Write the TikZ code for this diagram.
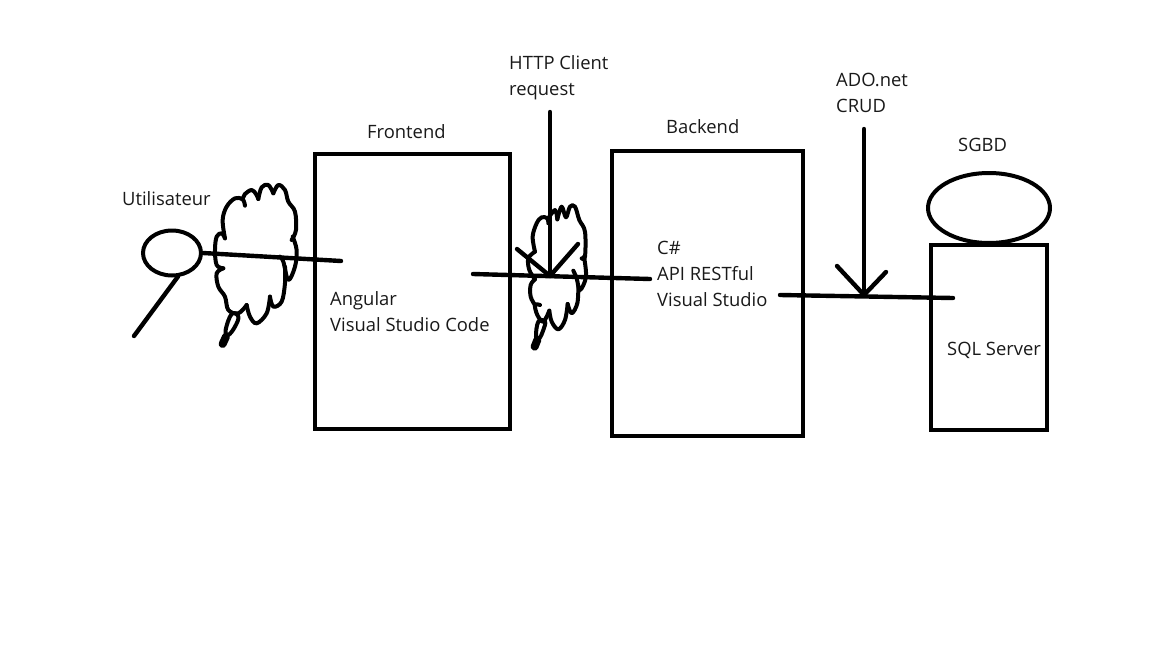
\documentclass[tikz,border=0pt]{standalone}
\usepackage{fontspec}
\setmainfont{Open Sans}
\usetikzlibrary{shapes.geometric}
\tikzset{
  every picture/.style={x=1pt,y=-1pt},
  ink/.style={line width=4.4pt,draw=black,line cap=round,line join=round},
  boxnode/.style={draw=black,line width=4pt,rectangle,inner sep=0pt,minimum width=#1},
  ovalnode/.style={draw=black,line width=4pt,ellipse,inner sep=0pt},
  lab/.style={inner sep=0pt,anchor=west,align=left,font=\fontsize{18.4}{26}\selectfont,text=black!90},
  doodle/.style={line width=4pt,draw=black,line cap=round,line join=round}
}
\begin{document}
\begin{tikzpicture}
\useasboundingbox (0,0) rectangle (1152,648);
% boxes
\node[boxnode=195pt,minimum height=275pt] (front) at (412.5,291.5) {};
\node[boxnode=191pt,minimum height=285pt] (back) at (707.5,293.5) {};
\node[boxnode=116pt,minimum height=185pt] (db) at (989,337.5) {};
\node[ovalnode,minimum width=122pt,minimum height=70pt] (dbtop) at (989,208) {};
\node[ovalnode,minimum width=58pt,minimum height=45pt] (user) at (172,253) {};
% labels
\node[lab] (lu) at (122,199) {Utilisateur};
\node[lab] (lf) at (367,132) {Frontend};
\node[lab] (lb) at (666,127) {Backend};
\node[lab] (ls) at (958,145) {SGBD};
\node[lab] (lh) at (509,77.5) {HTTP Client\\request};
\node[lab] (la) at (836,92.5) {ADO.net\\CRUD};
\node[lab] (lfi) at (330,311.5) {Angular\\Visual Studio Code};
\node[lab] (lbi) at (657,273.5) {C\#\\API RESTful\\Visual Studio};
\node[lab] (lsq) at (947,350) {SQL Server};
% free ends
\coordinate (legend) at (134,336);
\coordinate (u1) at (341,261);
\coordinate (f1) at (473,274);
\coordinate (h1) at (650,279);
\coordinate (hv0) at (550,112);
\coordinate (hv1) at (550,276);
\coordinate (ha1) at (517,249);
\coordinate (ha2) at (578,244);
\coordinate (b1) at (780,295);
\coordinate (d1) at (953,298);
\coordinate (av0) at (864,129);
\coordinate (av1) at (864,295);
\coordinate (aa1) at (837,266);
\coordinate (aa2) at (886,272);
% connectors
\draw[ink] (user.south) ++(6,-1) -- (legend);
\draw[ink] (user.east) -- (u1);
\draw[ink] (f1) -- (h1);
\draw[ink] (hv0) -- (hv1);
\draw[ink] (ha1) -- (hv1) -- (ha2);
\draw[ink] (b1) -- (d1);
\draw[ink] (av0) -- (av1);
\draw[ink] (aa1) -- (av1) -- (aa2);
% cloud 1
\begin{scope}[shift={(110,170)},x=0.3333pt,y=-0.3333pt]
\draw[doodle] plot[smooth,tension=0.6] coordinates {(345,205)(338,150)(350,110)(375,85)(398,88)(405,107)};
\draw[doodle] plot[smooth,tension=0.6] coordinates {(398,88)(405,72)(425,60)(438,72)(445,87)};
\draw[doodle] plot[smooth,tension=0.6] coordinates {(445,87)(455,52)(475,45)(490,70)};
\draw[doodle] plot[smooth,tension=0.6] coordinates {(490,70)(505,45)(525,60)(535,95)(555,125)(558,180)(545,210)};
\draw[doodle] plot[smooth,tension=0.6] coordinates {(548,200)(560,240)(555,290)(535,330)(520,275)(510,260)};
\draw[doodle] plot[smooth,tension=0.6] coordinates {(525,290)(525,340)(515,395)(490,410)(480,380)};
\draw[doodle] plot[smooth,tension=0.6] coordinates {(480,380)(470,430)(440,460)(420,440)(410,405)};
\draw[doodle] plot[smooth,tension=0.6] coordinates {(410,405)(385,430)(355,420)(345,380)(325,350)(320,310)(340,295)};
\draw[doodle] plot[smooth,tension=0.6] coordinates {(340,295)(320,285)(315,240)(320,200)(335,190)(345,205)};
\draw[doodle] plot[smooth cycle,tension=0.7] coordinates {(365,432)(347,480)(355,495)(375,470)(385,440)};
\draw[line width=8pt,line cap=round] (348,500) -- (338,522);
\end{scope}
% cloud 2
\begin{scope}[shift={(460,190)},x=0.3333pt,y=-0.3333pt]
\draw[doodle] plot[smooth,tension=0.6] coordinates {(225,185)(218,140)(230,100)(245,82)(262,85)(265,100)};
\draw[doodle] plot[smooth,tension=0.6] coordinates {(265,85)(285,60)(292,88)};
\draw[doodle] plot[smooth,tension=0.6] coordinates {(292,88)(305,50)(318,82)(330,50)(345,50)(358,90)(375,125)(375,200)(365,205)};
\draw[doodle] plot[smooth,tension=0.6] coordinates {(372,200)(378,260)(360,300)(350,265)(340,242)};
\draw[doodle] plot[smooth,tension=0.6] coordinates {(355,290)(352,340)(335,370)(323,342)};
\draw[doodle] plot[smooth,tension=0.6] coordinates {(323,342)(315,390)(295,418)(275,395)(268,362)};
\draw[doodle] plot[smooth,tension=0.6] coordinates {(268,362)(250,395)(232,375)(225,345)(240,345)};
\draw[doodle] plot[smooth,tension=0.6] coordinates {(225,345)(212,320)(212,285)(225,268)};
\draw[doodle] plot[smooth,tension=0.6] coordinates {(225,268)(208,240)(205,205)(225,185)};
\draw[doodle] plot[smooth cycle,tension=0.7] coordinates {(235,395)(228,440)(238,445)(250,420)(255,395)};
\draw[line width=8pt,line cap=round] (232,450) -- (224,470);
\end{scope}
\end{tikzpicture}
\end{document}
